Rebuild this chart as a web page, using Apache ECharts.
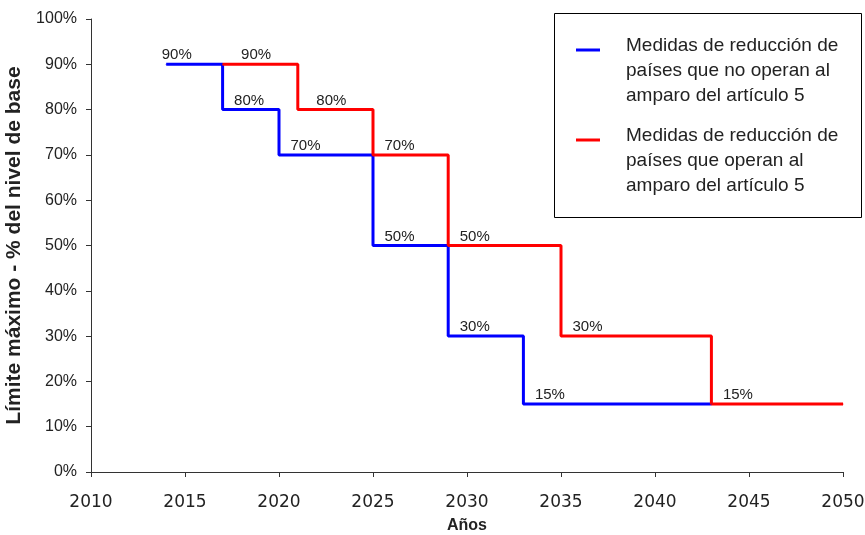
<!DOCTYPE html>
<html>
<head>
<meta charset="utf-8">
<script src="https://cdn.jsdelivr.net/npm/echarts@6/dist/echarts.min.js"></script>
<style>
  html, body { margin: 0; padding: 0; background: #fff; }
  #chart { width: 865px; height: 535px; }
</style>
</head>
<body>
<div id="chart"></div>
<script>
// step points: year where a level starts, and the level (%)
const noArt5Years = [2014, 2017, 2020, 2025, 2029, 2033, 2043];
const noArt5Values = [90, 80, 70, 50, 30, 15, 15];
const art5Years = [2017, 2021, 2025, 2029, 2035, 2043, 2050];
const art5Values = [90, 80, 70, 50, 30, 15, 15];

const noArt5Name = 'Medidas de reducción de\npaíses que no operan al\namparo del artículo 5';
const art5Name = 'Medidas de reducción de\npaíses que operan al\namparo del artículo 5';

const FONT = 'Arial, "Liberation Sans", sans-serif';
const WIDE = '"DejaVu Sans", sans-serif';

// a few labels sit off the usual spot
const noArt5Dx = { 0: -4 };
const art5Dx = { 0: 19, 1: 19 };

function buildData(years, values, dx) {
  return years.map((y, i) => {
    const last = i === years.length - 1;
    return {
      value: [y, values[i]],
      label: {
        show: !last,
        position: [dx[i] !== undefined ? dx[i] : 12, -16]
      }
    };
  });
}

function stepSeries(name, years, values, color, dx) {
  return {
    name: name,
    type: 'line',
    step: 'end',
    symbol: 'circle',
    symbolSize: 1,
    showSymbol: true,
    lineStyle: { color: color, width: 3 },
    itemStyle: { color: color },
    label: {
      show: true,
      color: '#222',
      fontSize: 15,
      fontFamily: FONT,
      formatter: p => p.value[1] + '%'
    },
    emphasis: { disabled: true },
    data: buildData(years, values, dx)
  };
}

const chart = echarts.init(document.getElementById('chart'));

const option = {
  animation: false,
  grid: { left: 91, right: 22, top: 19, bottom: 63, outerBoundsMode: 'none' },
  xAxis: {
    type: 'value',
    min: 2010,
    max: 2050,
    interval: 5,
    name: 'Años',
    nameLocation: 'middle',
    nameGap: 46,
    nameTextStyle: { fontFamily: FONT, fontSize: 16, fontWeight: 'bold', color: '#222' },
    axisLine: { lineStyle: { color: '#333', width: 1 } },
    axisTick: { show: true, length: 5, lineStyle: { color: '#333' } },
    axisLabel: { fontFamily: WIDE, fontSize: 17, color: '#222', margin: 22, formatter: v => String(v) },
    splitLine: { show: false }
  },
  yAxis: {
    type: 'value',
    min: 0,
    max: 100,
    interval: 10,
    name: 'Límite máximo - % del nivel de base',
    nameLocation: 'middle',
    nameGap: 64,
    nameTextStyle: { fontFamily: FONT, fontSize: 21, fontWeight: 'bold', color: '#222' },
    axisLine: { show: true, lineStyle: { color: '#333', width: 1 } },
    axisTick: { show: true, length: 5, lineStyle: { color: '#333' } },
    axisLabel: { fontFamily: FONT, fontSize: 16, color: '#222', margin: 14, formatter: '{value}%' },
    splitLine: { show: false }
  },
  series: [
    stepSeries(noArt5Name, noArt5Years, noArt5Values, '#0000ff', noArt5Dx),
    stepSeries(art5Name, art5Years, art5Values, '#ff0000', art5Dx)
  ],
  // legend box drawn by hand so the key line sits on the first text line
  graphic: [
    {
      type: 'rect',
      shape: { x: 554.5, y: 13.5, width: 307, height: 204 },
      style: { fill: '#fff', stroke: '#000', lineWidth: 1 },
      z: 10
    },
    {
      type: 'line',
      shape: { x1: 576, y1: 50, x2: 600, y2: 50 },
      style: { stroke: '#0000ff', lineWidth: 3 },
      z: 11
    },
    {
      type: 'text',
      x: 626, y: 33,
      style: { text: noArt5Name, font: '19px ' + FONT, fill: '#222', lineHeight: 25 },
      z: 11
    },
    {
      type: 'line',
      shape: { x1: 576, y1: 140, x2: 600, y2: 140 },
      style: { stroke: '#ff0000', lineWidth: 3 },
      z: 11
    },
    {
      type: 'text',
      x: 626, y: 123,
      style: { text: art5Name, font: '19px ' + FONT, fill: '#222', lineHeight: 25 },
      z: 11
    }
  ]
};

chart.setOption(option);
</script>
</body>
</html>
